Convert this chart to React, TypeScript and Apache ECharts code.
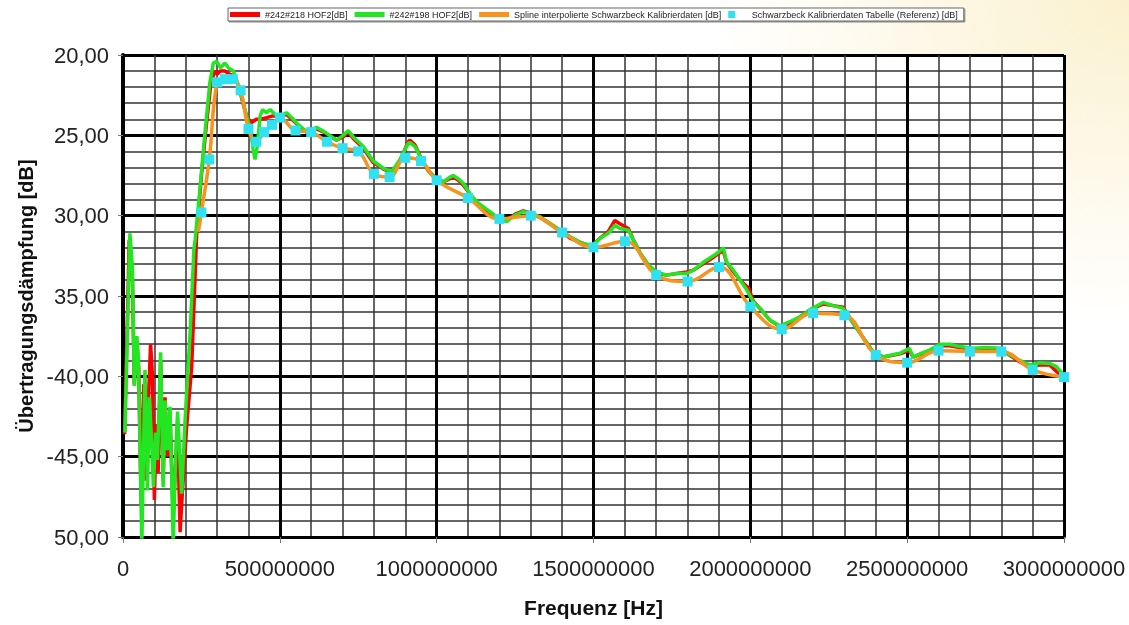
import React, { useEffect, useRef } from "react";
import * as echarts from "echarts";

// Frequency in MHz, attenuation in dB
const redName = "#242#218 HOF2[dB]";
const greenName = "#242#198 HOF2[dB]";
const orangeName = "Spline interpolierte Schwarzbeck Kalibrierdaten [dB]";
const cyanName = "Schwarzbeck Kalibrierdaten Tabelle (Referenz) [dB]";

const xTickLabels = ["0", "500000000", "1000000000", "1500000000", "2000000000", "2500000000", "3000000000"];
const yTickLabels: Record<string, string> = {
  "-20": "20,00",
  "-25": "25,00",
  "-30": "30,00",
  "-35": "35,00",
  "-40": "-40,00",
  "-45": "-45,00",
  "-50": "50,00",
};

const greenData: number[][] = [
  [6, -43.5], [22, -31.1], [30, -33.2], [36, -40.6], [44, -37.5], [49, -38.8], [60, -50.5],
  [70, -39.6], [78, -47.1], [84, -41.3], [91, -44.0], [97, -46.9], [104, -43.5], [110, -45.2],
  [120, -38.5], [128, -46.9], [134, -41.5], [142, -44.6], [150, -41.9], [160, -50.5], [168, -44.8],
  [174, -42.2], [187, -47.3], [198, -42.7], [214, -37.3], [226, -32.1], [230, -31.5], [245, -28.4],
  [261, -24.9], [277, -21.7], [288, -20.5], [299, -20.4], [311, -20.8], [325, -20.5], [336, -20.8],
  [352, -21.0], [364, -21.7], [378, -22.6], [394, -23.8], [407, -24.7], [415, -25.9], [421, -26.5],
  [428, -25.7], [437, -23.8], [445, -23.4], [458, -23.6], [469, -23.4], [485, -23.7], [500, -23.7],
  [511, -23.7], [522, -23.6], [538, -23.9], [554, -24.25], [585, -24.77], [617, -24.5], [644, -24.8],
  [681, -25.3], [702, -25.0], [718, -24.7], [734, -25.1], [766, -25.7], [798, -26.6], [830, -27.05],
  [857, -27.26], [883, -26.5], [909, -25.5], [915, -25.45], [931, -25.7], [952, -26.5], [973, -27.15],
  [998, -27.7], [1021, -27.9], [1042, -27.6], [1053, -27.5], [1069, -27.7], [1085, -28.0], [1112, -28.8],
  [1138, -29.3], [1170, -29.75], [1202, -30.27], [1223, -30.37], [1250, -29.96], [1276, -29.75],
  [1303, -29.9], [1329, -30.06], [1361, -30.47], [1393, -30.9], [1425, -31.3], [1462, -31.7],
  [1494, -31.9], [1521, -31.4], [1547, -31.1], [1568, -30.6], [1584, -30.8], [1611, -30.9],
  [1627, -31.5], [1648, -32.3], [1675, -33.07], [1701, -33.5], [1733, -33.7], [1765, -33.6],
  [1797, -33.6], [1818, -33.4], [1850, -32.9], [1882, -32.5], [1903, -32.2], [1914, -32.0],
  [1924, -32.86], [1946, -33.4], [1967, -34.0], [1988, -34.6], [2009, -35.35], [2036, -35.87],
  [2062, -36.5], [2094, -36.86], [2126, -36.6], [2158, -36.3], [2195, -35.8], [2232, -35.4],
  [2264, -35.6], [2296, -35.77], [2328, -36.7], [2360, -37.6], [2392, -38.5], [2424, -38.8],
  [2450, -38.67], [2477, -38.56], [2507, -38.25], [2519, -38.8], [2546, -38.56], [2573, -38.35],
  [2604, -38.0], [2636, -38.0], [2668, -38.15], [2711, -38.25], [2753, -38.2], [2796, -38.25],
  [2828, -38.67], [2859, -39.0], [2891, -39.3], [2923, -39.15], [2955, -39.2], [2976, -39.4],
  [2994, -39.8],
];

const redData: number[][] = [
  [5, -43.6], [20, -31.5], [30, -34.0], [36, -40.5], [44, -38.0], [50, -39.5], [58, -48.0],
  [66, -40.5], [74, -46.5], [82, -41.0], [88, -38.0], [94, -40.0], [100, -47.7], [106, -43.0],
  [112, -46.0], [120, -39.0], [128, -46.5], [134, -41.3], [142, -45.0], [150, -42.5], [160, -48.5],
  [168, -45.5], [174, -43.0], [182, -49.7], [190, -47.0], [203, -43.1], [219, -39.4], [235, -31.1],
  [250, -27.5], [265, -24.5], [280, -21.8], [292, -21.0], [300, -21.2], [310, -21.0], [325, -21.0],
  [340, -21.2], [355, -21.3], [368, -21.9], [380, -22.8], [395, -23.9], [410, -24.2], [425, -24.0],
  [440, -24.0], [458, -23.9], [475, -23.8], [500, -23.8], [522, -23.7], [538, -24.0], [554, -24.3],
  [585, -24.8], [617, -24.6], [640, -24.8], [681, -25.3], [702, -25.1], [718, -24.8], [734, -25.2],
  [766, -25.8], [798, -26.7], [830, -27.1], [857, -27.3], [883, -26.6], [909, -25.4], [915, -25.3],
  [931, -25.6], [952, -26.5], [973, -27.2], [998, -27.7], [1021, -27.9], [1042, -27.7], [1053, -27.6],
  [1069, -27.8], [1085, -28.1], [1112, -28.8], [1138, -29.4], [1170, -29.8], [1202, -30.2],
  [1223, -30.3], [1250, -29.9], [1276, -29.7], [1303, -29.85], [1329, -30.1], [1361, -30.5],
  [1393, -30.9], [1425, -31.4], [1462, -31.7], [1494, -31.9], [1521, -31.4], [1547, -31.0],
  [1568, -30.3], [1584, -30.5], [1611, -30.8], [1627, -31.5], [1648, -32.3], [1675, -33.1],
  [1701, -33.6], [1733, -33.7], [1765, -33.6], [1797, -33.5], [1818, -33.4], [1850, -33.0],
  [1882, -32.6], [1903, -32.3], [1914, -32.2], [1924, -32.9], [1946, -33.5], [1967, -34.0],
  [1983, -34.3], [1995, -34.5], [2009, -35.3], [2036, -35.9], [2062, -36.5], [2094, -36.9],
  [2126, -36.7], [2158, -36.3], [2195, -35.8], [2232, -35.5], [2264, -35.6], [2296, -35.7],
  [2328, -36.7], [2360, -37.6], [2392, -38.5], [2424, -38.8], [2450, -38.7], [2477, -38.6],
  [2507, -38.4], [2519, -38.8], [2546, -38.6], [2573, -38.4], [2604, -38.1], [2636, -38.1],
  [2668, -38.2], [2711, -38.3], [2753, -38.3], [2796, -38.3], [2828, -38.7], [2859, -39.1],
  [2891, -39.4], [2923, -39.3], [2955, -39.3], [2976, -39.7], [2994, -40.0],
];

const cyanData: number[][] = [
  [250, -29.8], [275, -26.5], [300, -21.7], [325, -21.5], [350, -21.5], [375, -22.2], [400, -24.6],
  [425, -25.4], [450, -24.8], [475, -24.35], [500, -23.9], [550, -24.7], [600, -24.8], [650, -25.4],
  [700, -25.8], [750, -26.0], [800, -27.4], [850, -27.6], [900, -26.4], [950, -26.6], [1000, -27.8],
  [1100, -28.9], [1200, -30.2], [1300, -30.0], [1400, -31.05], [1500, -31.97], [1600, -31.6],
  [1700, -33.7], [1800, -34.1], [1900, -33.2], [2000, -35.66], [2100, -37.07], [2200, -36.07],
  [2300, -36.2], [2400, -38.67], [2500, -39.15], [2600, -38.4], [2700, -38.46], [2800, -38.46],
  [2900, -39.6], [3000, -40.05],
];

const orangeStart: number[][] = [[240, -31.0]];

const FONT = "'Liberation Sans', Arial, sans-serif";

export default function App() {
  const ref = useRef<HTMLDivElement>(null);
  useEffect(() => {
    if (!ref.current) return;
    const chart = echarts.init(ref.current, null, { renderer: "svg" });
    const orangeData = orangeStart.concat(cyanData);
    chart.setOption({
      animation: false,
      backgroundColor: "transparent",
      textStyle: { fontFamily: FONT },
      grid: {
        left: 123,
        right: 65,
        top: 55,
        bottom: 88,
        show: true,
        backgroundColor: "#ffffff",
        borderWidth: 0,
      },
      legend: {
        top: 8,
        left: 228,
        itemWidth: 30,
        itemHeight: 7,
        itemGap: 7,
        padding: [2, 6, 2, 2],
        borderColor: "#666",
        borderWidth: 1,
        backgroundColor: "#fff",
        shadowColor: "rgba(0,0,0,0.45)",
        shadowOffsetX: 1,
        shadowOffsetY: 1,
        shadowBlur: 0,
        textStyle: { fontSize: 9, color: "#222", fontFamily: FONT },
        data: [
          { name: redName, icon: "path://M0,0H30V5H0Z" },
          { name: greenName, icon: "path://M0,0H30V5H0Z" },
          { name: orangeName, icon: "path://M0,0H30V5H0Z" },
          { name: cyanName, icon: "path://M0,0H7V7H0Z", itemStyle: { opacity: 1 } },
        ],
      },
      xAxis: {
        type: "value",
        min: 0,
        max: 3000,
        interval: 500,
        name: "Frequenz [Hz]",
        nameLocation: "middle",
        nameGap: 60,
        nameTextStyle: { fontSize: 21, fontWeight: "bold", color: "#111", fontFamily: FONT },
        axisLine: { show: true, onZero: false, lineStyle: { color: "#000", width: 3 } },
        axisTick: { show: true, length: 6, lineStyle: { color: "#777", width: 1 } },
        axisLabel: {
          margin: 20,
          fontSize: 22,
          color: "#222",
          fontFamily: FONT,
          formatter: (v: number) => xTickLabels[Math.round(v / 500)] ?? "",
        },
        splitLine: { show: true, lineStyle: { color: "#000", width: 3 } },
        minorTick: { show: false, splitNumber: 5 },
        minorSplitLine: { show: true, lineStyle: { color: "#333", width: 1.5 } },
      },
      yAxis: {
        type: "value",
        min: -50,
        max: -20,
        interval: 5,
        name: "Übertragungsdämpfung [dB]",
        nameLocation: "middle",
        nameRotate: 90,
        nameGap: 85,
        nameTextStyle: { fontSize: 20, fontWeight: "bold", color: "#111", fontFamily: FONT },
        axisLine: { show: true, onZero: false, lineStyle: { color: "#000", width: 4 } },
        axisTick: { show: true, length: 5, lineStyle: { color: "#777", width: 1 } },
        axisLabel: {
          margin: 14,
          fontSize: 22,
          color: "#222",
          fontFamily: FONT,
          formatter: (v: number) => yTickLabels[String(Math.round(v))] ?? "",
        },
        splitLine: { show: true, lineStyle: { color: "#000", width: 3 } },
        minorTick: { show: false, splitNumber: 5 },
        minorSplitLine: { show: true, lineStyle: { color: "#333", width: 1.5 } },
      },
      series: [
        {
          name: redName,
          type: "line",
          data: redData,
          showSymbol: false,
          symbol: "none",
          clip: true,
          z: 2,
          itemStyle: { color: "#FF0000" },
          lineStyle: { color: "#FF0000", width: 3.5 },
        },
        {
          name: greenName,
          type: "line",
          data: greenData,
          showSymbol: false,
          symbol: "none",
          clip: true,
          z: 3,
          itemStyle: { color: "#22E622" },
          lineStyle: { color: "#22E622", width: 3.5 },
        },
        {
          name: orangeName,
          type: "line",
          data: orangeData,
          smooth: 0.4,
          showSymbol: false,
          symbol: "none",
          clip: true,
          z: 4,
          itemStyle: { color: "#F7941D" },
          lineStyle: { color: "#F7941D", width: 3.5 },
        },
        {
          name: cyanName,
          type: "scatter",
          data: cyanData,
          symbol: "rect",
          symbolSize: 10,
          clip: false,
          z: 10,
          itemStyle: { color: "#2FE2F2", opacity: 1 },
        },
      ],
    });
    return () => chart.dispose();
  }, []);
  return (
    <div
      style={{
        position: "fixed",
        left: 0,
        top: 0,
        width: 1129,
        height: 625,
        background: "radial-gradient(ellipse 420px 320px at 100% 0%, #FBF1CF 0%, #FFFFFF 100%)",
      }}
    >
      <div ref={ref} style={{ width: 1129, height: 625 }} />
    </div>
  );
}
